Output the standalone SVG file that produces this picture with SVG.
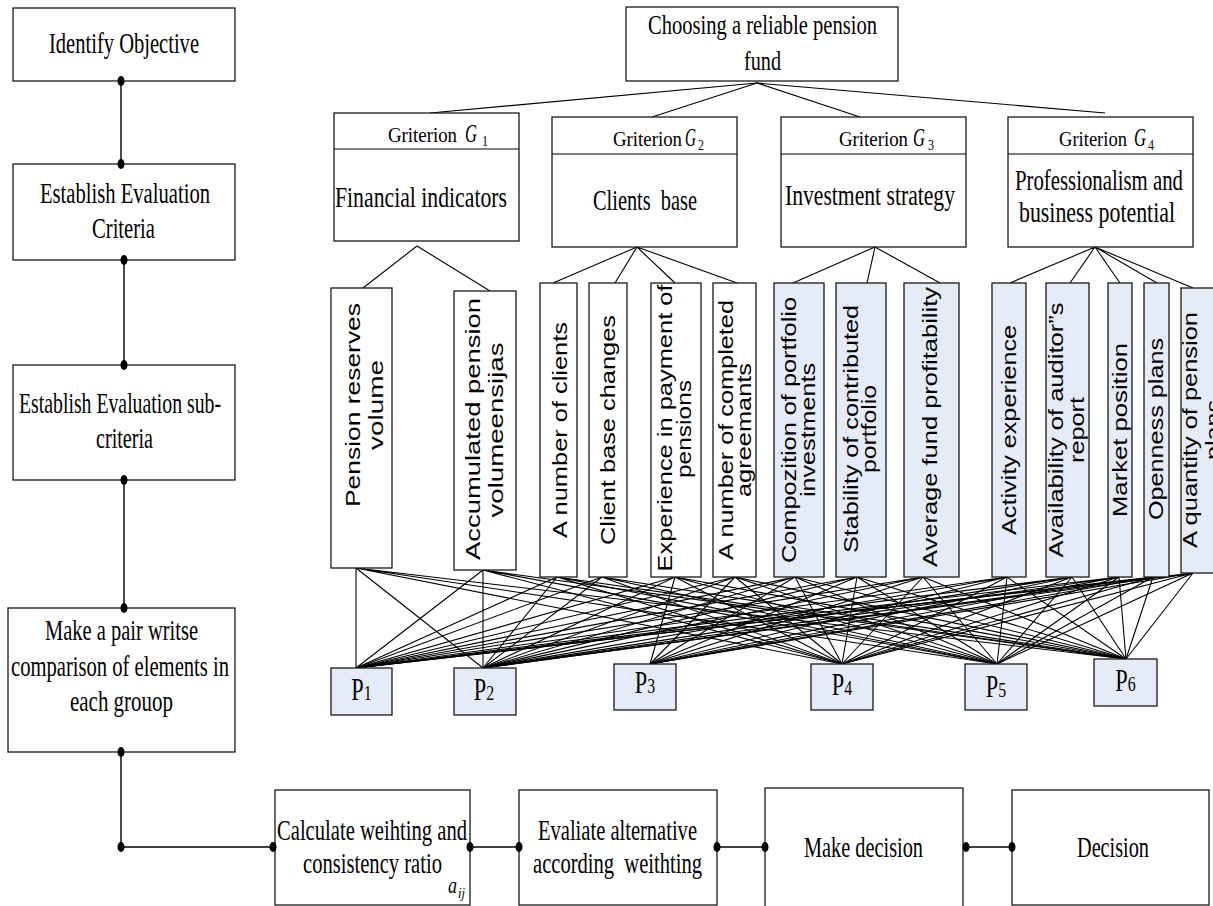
<svg xmlns="http://www.w3.org/2000/svg" width="1213" height="906" viewBox="0 0 1213 906">
<style>
.box{fill:#fff;stroke:#1a1a1a;stroke-width:1.3}
.bl{fill:#E6ECF7;stroke:#1a1a1a;stroke-width:1.3}
.ser{font-family:"Liberation Serif","Times New Roman",serif;fill:#000}
.big{font-size:29px}
.gr{font-size:22px}
.san{font-family:"Liberation Sans",Arial,sans-serif;font-size:21px;fill:#000}
.ln{stroke:#000;stroke-width:1.1;fill:none}
.fl{stroke:#000;stroke-width:1.4;fill:none}
.dot{fill:#000}
</style>
<rect width="1213" height="906" fill="#fff"/>

<g id="connectors">
  <g id="flow-lines">
    <path class="fl" d="M121 81L121 164M124 260L124 365M124 480L124 608M121 752L121 847L272 847M470 847L519 847M717 847L765 847M963 847L1012 847"/>
  </g>
  <g id="tree-lines">
    <path class="ln" d="M757 83L430 113M757 83L652 117M757 83L860 117M757 83L1105 113"/>
    <path class="ln" d="M417 246L363 288M417 246L490 291"/>
    <path class="ln" d="M637 247L553 283M637 247L615 283M637 247L675 283M637 247L737 283"/>
    <path class="ln" d="M875 247L793 283M875 247L867 283M875 247L940 283"/>
    <path class="ln" d="M1095 247L1010 283M1095 247L1070 283M1095 247L1120 283M1095 247L1157 283M1095 247L1193 288"/>
  </g>
  <g id="mesh">
    <path class="ln" d="M356 568L356 668M356 568L483 668M356 568L842 664M356 568L997 664M356 568L1126 659"/>
    <path class="ln" d="M483 570L356 668M483 570L483 668M483 570L842 664M483 570L997 664M483 570L1126 659"/>
    <path class="ln" d="M557 577L356 668M557 577L483 668M557 577L842 664M557 577L997 664M557 577L1126 659"/>
    <path class="ln" d="M602 577L356 668M602 577L483 668M602 577L842 664M602 577L997 664M602 577L1126 659"/>
    <path class="ln" d="M675 577L356 668M675 577L483 668M675 577L650 664M675 577L842 664M675 577L997 664M675 577L1126 659"/>
    <path class="ln" d="M735 577L356 668M735 577L483 668M735 577L650 664M735 577L842 664M735 577L997 664M735 577L1126 659"/>
    <path class="ln" d="M795 577L356 668M795 577L483 668M795 577L650 664M795 577L842 664M795 577L997 664M795 577L1126 659"/>
    <path class="ln" d="M857 577L356 668M857 577L483 668M857 577L650 664M857 577L842 664M857 577L997 664M857 577L1126 659"/>
    <path class="ln" d="M923 577L356 668M923 577L483 668M923 577L650 664M923 577L842 664M923 577L997 664M923 577L1126 659"/>
    <path class="ln" d="M1007 577L356 668M1007 577L483 668M1007 577L650 664M1007 577L842 664M1007 577L997 664M1007 577L1126 659"/>
    <path class="ln" d="M1072 577L356 668M1072 577L483 668M1072 577L650 664M1072 577L842 664M1072 577L997 664M1072 577L1126 659"/>
    <path class="ln" d="M1119 577L356 668M1119 577L483 668M1119 577L650 664M1119 577L842 664M1119 577L997 664M1119 577L1126 659"/>
    <path class="ln" d="M1153 577L356 668M1153 577L483 668M1153 577L650 664M1153 577L842 664M1153 577L997 664M1153 577L1126 659"/>
    <path class="ln" d="M1193 573L356 668M1193 573L483 668M1193 573L650 664M1193 573L842 664M1193 573L997 664M1193 573L1126 659"/>
  </g>
</g>

<g id="identify">
  <rect class="box" x="13" y="8" width="222" height="73"/>
  <text class="ser big" x="124" y="53" text-anchor="middle" textLength="150" lengthAdjust="spacingAndGlyphs">Identify Objective</text>
</g>
<g id="criteria">
  <rect class="box" x="13" y="164" width="222" height="96"/>
  <text class="ser big" x="125" y="203" text-anchor="middle" textLength="170" lengthAdjust="spacingAndGlyphs">Establish Evaluation</text>
  <text class="ser big" x="123.5" y="238" text-anchor="middle" textLength="63" lengthAdjust="spacingAndGlyphs">Criteria</text>
</g>
<g id="subcriteria">
  <rect class="box" x="13" y="365" width="222" height="115"/>
  <text class="ser big" x="120" y="413" text-anchor="middle" textLength="202" lengthAdjust="spacingAndGlyphs">Establish Evaluation sub-</text>
  <text class="ser big" x="124.5" y="448" text-anchor="middle" textLength="57" lengthAdjust="spacingAndGlyphs">criteria</text>
</g>
<g id="pairwise">
  <rect class="box" x="8" y="608" width="227" height="144"/>
  <text class="ser big" x="121.5" y="640" text-anchor="middle" textLength="153" lengthAdjust="spacingAndGlyphs">Make a pair writse</text>
  <text class="ser big" x="120" y="676" text-anchor="middle" textLength="218" lengthAdjust="spacingAndGlyphs">comparison of elements in</text>
  <text class="ser big" x="121.5" y="711" text-anchor="middle" textLength="103" lengthAdjust="spacingAndGlyphs">each grouop</text>
</g>
<g id="calculate">
  <rect class="box" x="275" y="790" width="195" height="115"/>
  <text class="ser big" x="372" y="840" text-anchor="middle" textLength="190" lengthAdjust="spacingAndGlyphs">Calculate weihting and</text>
  <text class="ser big" x="372.5" y="873" text-anchor="middle" textLength="139" lengthAdjust="spacingAndGlyphs">consistency ratio</text>
  <text class="ser" x="448" y="893" font-size="24" font-style="italic" textLength="9" lengthAdjust="spacingAndGlyphs">a</text>
  <text class="ser" x="458" y="898" font-size="15" font-style="italic" textLength="7" lengthAdjust="spacingAndGlyphs">ij</text>
</g>
<g id="evaluate">
  <rect class="box" x="519" y="790" width="198" height="115"/>
  <text class="ser big" x="617.5" y="840" text-anchor="middle" textLength="159" lengthAdjust="spacingAndGlyphs">Evaliate alternative</text>
  <text class="ser big" x="617.5" y="873" text-anchor="middle" textLength="169" lengthAdjust="spacingAndGlyphs" xml:space="preserve">according  weithting</text>
</g>
<g id="make-decision">
  <rect class="box" x="765" y="788" width="198" height="125"/>
  <text class="ser big" x="863.5" y="857" text-anchor="middle" textLength="119" lengthAdjust="spacingAndGlyphs">Make decision</text>
</g>
<g id="decision">
  <rect class="box" x="1012" y="790" width="197" height="115"/>
  <text class="ser big" x="1113" y="857" text-anchor="middle" textLength="72" lengthAdjust="spacingAndGlyphs">Decision</text>
</g>

<g id="goal">
  <rect class="box" x="626" y="7" width="272" height="74"/>
  <text class="ser" font-size="27" x="762.5" y="34" text-anchor="middle" textLength="229" lengthAdjust="spacingAndGlyphs">Choosing a reliable pension</text>
  <text class="ser" font-size="27" x="762.5" y="70" text-anchor="middle" textLength="37" lengthAdjust="spacingAndGlyphs">fund</text>
</g>

<g id="g1">
  <rect class="box" x="334" y="113" width="185" height="128"/>
  <line class="ln" x1="334" y1="149" x2="519" y2="149" stroke-width="1.3"/>
  <text class="ser gr" x="388" y="142" textLength="69" lengthAdjust="spacingAndGlyphs">Griterion</text>
  <text class="ser" x="465" y="142" font-size="26" font-style="italic" textLength="12" lengthAdjust="spacingAndGlyphs">G</text>
  <text class="ser" x="482" y="146" font-size="15" textLength="6" lengthAdjust="spacingAndGlyphs">1</text>
  <text class="ser big" x="421" y="207" text-anchor="middle" textLength="172" lengthAdjust="spacingAndGlyphs">Financial indicators</text>
</g>
<g id="g2">
  <rect class="box" x="552" y="117" width="185" height="130"/>
  <line class="ln" x1="552" y1="154" x2="737" y2="154" stroke-width="1.3"/>
  <text class="ser gr" x="613" y="146" textLength="69" lengthAdjust="spacingAndGlyphs">Griterion</text>
  <text class="ser" x="685" y="146" font-size="26" font-style="italic" textLength="11" lengthAdjust="spacingAndGlyphs">G</text>
  <text class="ser" x="698" y="150" font-size="15" textLength="6" lengthAdjust="spacingAndGlyphs">2</text>
  <text class="ser big" x="645" y="210" text-anchor="middle" textLength="104" lengthAdjust="spacingAndGlyphs" xml:space="preserve">Clients  base</text>
</g>
<g id="g3">
  <rect class="box" x="781" y="117" width="185" height="130"/>
  <line class="ln" x1="781" y1="154" x2="966" y2="154" stroke-width="1.3"/>
  <text class="ser gr" x="839" y="146" textLength="69" lengthAdjust="spacingAndGlyphs">Griterion</text>
  <text class="ser" x="913" y="146" font-size="26" font-style="italic" textLength="12" lengthAdjust="spacingAndGlyphs">G</text>
  <text class="ser" x="928" y="150" font-size="15" textLength="6" lengthAdjust="spacingAndGlyphs">3</text>
  <text class="ser big" x="870" y="205" text-anchor="middle" textLength="170" lengthAdjust="spacingAndGlyphs">Investment strategy</text>
</g>
<g id="g4">
  <rect class="box" x="1008" y="117" width="185" height="130"/>
  <line class="ln" x1="1008" y1="154" x2="1193" y2="154" stroke-width="1.3"/>
  <text class="ser gr" x="1059" y="146" textLength="68" lengthAdjust="spacingAndGlyphs">Griterion</text>
  <text class="ser" x="1134" y="146" font-size="26" font-style="italic" textLength="12" lengthAdjust="spacingAndGlyphs">G</text>
  <text class="ser" x="1148" y="150" font-size="15" textLength="6" lengthAdjust="spacingAndGlyphs">4</text>
  <text class="ser big" x="1099" y="190" text-anchor="middle" textLength="168" lengthAdjust="spacingAndGlyphs">Professionalism and</text>
  <text class="ser big" x="1097" y="222" text-anchor="middle" textLength="156" lengthAdjust="spacingAndGlyphs">business potential</text>
</g>

<g id="s1">
  <rect class="box" x="331" y="288" width="61" height="280"/>
  <text class="san" transform="translate(360,405) rotate(-90)" text-anchor="middle" textLength="204" lengthAdjust="spacingAndGlyphs">Pension reserves</text>
  <text class="san" transform="translate(383,405) rotate(-90)" text-anchor="middle" textLength="90" lengthAdjust="spacingAndGlyphs">volume</text>
</g>
<g id="s2">
  <rect class="box" x="454" y="291" width="62" height="279"/>
  <text class="san" transform="translate(480,429) rotate(-90)" text-anchor="middle" textLength="262" lengthAdjust="spacingAndGlyphs">Accumulated pension</text>
  <text class="san" transform="translate(503,430) rotate(-90)" text-anchor="middle" textLength="175" lengthAdjust="spacingAndGlyphs">volumeensijas</text>
</g>
<g id="s3">
  <rect class="box" x="540" y="283" width="37" height="294"/>
  <text class="san" transform="translate(567,430) rotate(-90)" text-anchor="middle" textLength="216" lengthAdjust="spacingAndGlyphs">A number of clients</text>
</g>
<g id="s4">
  <rect class="box" x="589" y="283" width="38" height="294"/>
  <text class="san" transform="translate(615,430) rotate(-90)" text-anchor="middle" textLength="230" lengthAdjust="spacingAndGlyphs">Client base changes</text>
</g>
<g id="s5">
  <rect class="box" x="651" y="283" width="50" height="294"/>
  <text class="san" transform="translate(672,428) rotate(-90)" text-anchor="middle" textLength="287" lengthAdjust="spacingAndGlyphs">Experience in payment of</text>
  <text class="san" transform="translate(691,429) rotate(-90)" text-anchor="middle" textLength="98" lengthAdjust="spacingAndGlyphs">pensions</text>
</g>
<g id="s6">
  <rect class="box" x="713" y="283" width="43" height="294"/>
  <text class="san" transform="translate(733,430) rotate(-90)" text-anchor="middle" textLength="260" lengthAdjust="spacingAndGlyphs">A number of completed</text>
  <text class="san" transform="translate(751,430) rotate(-90)" text-anchor="middle" textLength="134" lengthAdjust="spacingAndGlyphs">agreemants</text>
</g>
<g id="s7">
  <rect class="bl" x="774" y="283" width="50" height="294"/>
  <text class="san" transform="translate(796,430) rotate(-90)" text-anchor="middle" textLength="266" lengthAdjust="spacingAndGlyphs">Compozition of portfolio</text>
  <text class="san" transform="translate(815,430) rotate(-90)" text-anchor="middle" textLength="134" lengthAdjust="spacingAndGlyphs">investments</text>
</g>
<g id="s8">
  <rect class="bl" x="836" y="283" width="50" height="294"/>
  <text class="san" transform="translate(858,429) rotate(-90)" text-anchor="middle" textLength="248" lengthAdjust="spacingAndGlyphs">Stability of contributed</text>
  <text class="san" transform="translate(876,429) rotate(-90)" text-anchor="middle" textLength="88" lengthAdjust="spacingAndGlyphs">portfolio</text>
</g>
<g id="s9">
  <rect class="bl" x="904" y="283" width="55" height="294"/>
  <text class="san" transform="translate(937,427) rotate(-90)" text-anchor="middle" textLength="280" lengthAdjust="spacingAndGlyphs">Average fund profitability</text>
</g>
<g id="s10">
  <rect class="bl" x="992" y="283" width="34" height="294"/>
  <text class="san" transform="translate(1016,430) rotate(-90)" text-anchor="middle" textLength="210" lengthAdjust="spacingAndGlyphs">Activity experience</text>
</g>
<g id="s11">
  <rect class="bl" x="1046" y="283" width="43" height="294"/>
  <text class="san" transform="translate(1063,430) rotate(-90)" text-anchor="middle" textLength="255" lengthAdjust="spacingAndGlyphs">Availability of auditor”s</text>
  <text class="san" transform="translate(1084,430) rotate(-90)" text-anchor="middle" textLength="66" lengthAdjust="spacingAndGlyphs">report</text>
</g>
<g id="s12">
  <rect class="bl" x="1108" y="283" width="24" height="294"/>
  <text class="san" transform="translate(1127,430) rotate(-90)" text-anchor="middle" textLength="174" lengthAdjust="spacingAndGlyphs">Market position</text>
</g>
<g id="s13">
  <rect class="bl" x="1144" y="283" width="25" height="294"/>
  <text class="san" transform="translate(1163,429) rotate(-90)" text-anchor="middle" textLength="182" lengthAdjust="spacingAndGlyphs">Openness plans</text>
</g>
<g id="s14">
  <rect class="bl" x="1181" y="288" width="50" height="285"/>
  <text class="san" transform="translate(1197,430) rotate(-90)" text-anchor="middle" textLength="236" lengthAdjust="spacingAndGlyphs">A quantity of pension</text>
  <text class="san" transform="translate(1220,430) rotate(-90)" text-anchor="middle" textLength="60" lengthAdjust="spacingAndGlyphs">plans</text>
</g>

<g id="p1">
  <rect class="bl" x="331" y="668" width="61" height="47"/>
  <text class="ser" font-size="31" transform="translate(361.5,700) scale(0.72,1)" text-anchor="middle">P<tspan font-size="22">1</tspan></text>
</g>
<g id="p2">
  <rect class="bl" x="454" y="668" width="62" height="47"/>
  <text class="ser" font-size="31" transform="translate(484,700) scale(0.72,1)" text-anchor="middle">P<tspan font-size="22">2</tspan></text>
</g>
<g id="p3">
  <rect class="bl" x="614" y="664" width="62" height="46"/>
  <text class="ser" font-size="31" transform="translate(645,693) scale(0.72,1)" text-anchor="middle">P<tspan font-size="22">3</tspan></text>
</g>
<g id="p4">
  <rect class="bl" x="811" y="664" width="62" height="46"/>
  <text class="ser" font-size="31" transform="translate(842,695) scale(0.72,1)" text-anchor="middle">P<tspan font-size="22">4</tspan></text>
</g>
<g id="p5">
  <rect class="bl" x="965" y="664" width="62" height="46"/>
  <text class="ser" font-size="31" transform="translate(996,697) scale(0.72,1)" text-anchor="middle">P<tspan font-size="22">5</tspan></text>
</g>
<g id="p6">
  <rect class="bl" x="1094" y="659" width="63" height="47"/>
  <text class="ser" font-size="31" transform="translate(1125.5,691) scale(0.72,1)" text-anchor="middle">P<tspan font-size="22">6</tspan></text>
</g>

<g id="dots">
  <ellipse class="dot" cx="121" cy="81" rx="3.5" ry="5"/>
  <ellipse class="dot" cx="121" cy="164" rx="3.5" ry="5"/>
  <ellipse class="dot" cx="124" cy="260" rx="3.5" ry="5"/>
  <ellipse class="dot" cx="124" cy="365" rx="3.5" ry="5"/>
  <ellipse class="dot" cx="124" cy="480" rx="3.5" ry="5"/>
  <ellipse class="dot" cx="124" cy="608" rx="3.5" ry="5"/>
  <ellipse class="dot" cx="121" cy="752" rx="3.5" ry="5"/>
  <ellipse class="dot" cx="121" cy="847" rx="3.5" ry="5"/>
  <ellipse class="dot" cx="273" cy="847" rx="3.5" ry="5"/>
  <ellipse class="dot" cx="470" cy="847" rx="3.5" ry="5"/>
  <ellipse class="dot" cx="519" cy="847" rx="3.5" ry="5"/>
  <ellipse class="dot" cx="717" cy="847" rx="3.5" ry="5"/>
  <ellipse class="dot" cx="765" cy="847" rx="3.5" ry="5"/>
  <ellipse class="dot" cx="966" cy="847" rx="3.5" ry="5"/>
  <ellipse class="dot" cx="1012" cy="847" rx="3.5" ry="5"/>
</g>
</svg>
